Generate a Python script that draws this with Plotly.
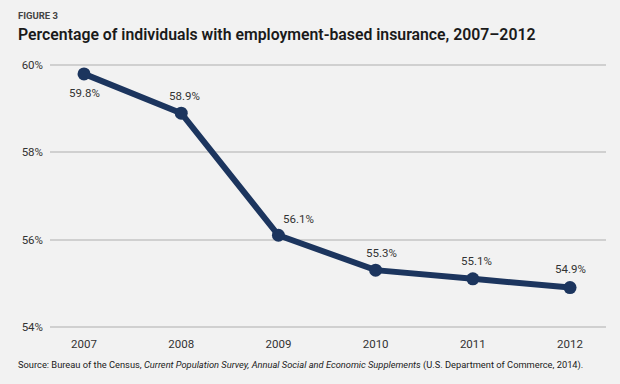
import plotly.graph_objects as go

years = [2007, 2008, 2009, 2010, 2011, 2012]
values = [59.8, 58.9, 56.1, 55.3, 55.1, 54.9]
value_labels = ["59.8%", "58.9%", "56.1%", "55.3%", "55.1%", "54.9%"]
y_ticks = [54, 56, 58, 60]
y_tick_labels = ["54%", "56%", "58%", "60%"]

# label offsets (px) relative to points
label_dx = [0, 3, 20, 6, 4, 0]
label_dy = [-19, 17, 16, 17, 18, 19]

NAVY = "#1c355e"
FONT = "Roboto, Arial, sans-serif"

fig = go.Figure()
fig.add_trace(go.Scatter(
    x=years, y=values, mode="lines+markers",
    line=dict(color=NAVY, width=6),
    marker=dict(color=NAVY, size=13),
    hoverinfo="skip", showlegend=False, cliponaxis=False,
))

for x, y, t, dx, dy in zip(years, values, value_labels, label_dx, label_dy):
    fig.add_annotation(x=x, y=y, text=t, showarrow=False, xshift=dx, yshift=dy,
                       font=dict(family=FONT, size=11.5, color="#333333"))

fig.add_annotation(xref="paper", yref="paper", x=0, y=1, xshift=-34, yshift=48,
                   xanchor="left", yanchor="middle", text="<b>FIGURE 3</b>", showarrow=False,
                   font=dict(family=FONT, size=9.5, color="#444444"))
fig.add_annotation(xref="paper", yref="paper", x=0, y=1, xshift=-34, yshift=29,
                   xanchor="left", yanchor="middle",
                   text="Percentage of individuals with employment-based insurance, 2007–2012",
                   showarrow=False, font=dict(family=FONT, size=15.8, color="#1a1a1a", weight=600))
fig.add_annotation(xref="paper", yref="paper", x=0, y=0, xshift=-34, yshift=-36,
                   xanchor="left", yanchor="middle",
                   text="Source: Bureau of the Census, <i>Current Population Survey, Annual Social and Economic Supplements</i> (U.S. Department of Commerce, 2014).",
                   showarrow=False, font=dict(family=FONT, size=9.3, color="#1a1a1a"))

fig.update_layout(
    width=620, height=384,
    margin=dict(l=50, r=14, t=63, b=55),
    paper_bgcolor="#f2f2f2", plot_bgcolor="#f2f2f2",
    font=dict(family=FONT, size=12, color="#333333"),
    xaxis=dict(range=[2006.65, 2012.37], tickmode="array", tickvals=years,
               ticktext=[str(y) for y in years], showgrid=False, zeroline=False,
               showline=False, ticks="", ticklabelstandoff=6,
               tickfont=dict(family=FONT, size=11.5, color="#333333")),
    yaxis=dict(range=[53.95, 60.05], tickmode="array", tickvals=y_ticks, ticktext=y_tick_labels,
               showgrid=True, gridcolor="#d0d0d0", gridwidth=1.5, zeroline=False,
               showline=False, ticks="", ticklabelstandoff=6,
               tickfont=dict(family=FONT, size=11.5, color="#333333")),
)

fig.write_html("out.html", config={"displayModeBar": False},
               post_script="document.body.style.margin='0';document.body.style.background='#f2f2f2';")
